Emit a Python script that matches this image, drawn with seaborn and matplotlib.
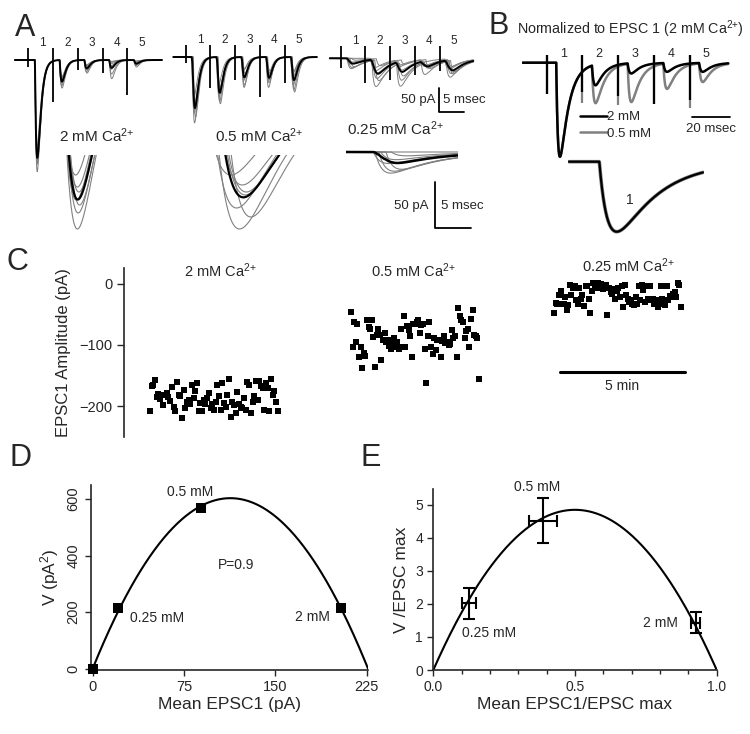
import numpy as np
import matplotlib
matplotlib.use("Agg")
import matplotlib.pyplot as plt
from matplotlib.lines import Line2D
from matplotlib.ticker import MultipleLocator
import seaborn as sns

sns.set_style("ticks")
plt.rcParams["font.family"] = ["Liberation Sans", "DejaVu Sans"]
plt.rcParams["mathtext.fontset"] = "custom"
plt.rcParams["mathtext.rm"] = "Liberation Sans"
plt.rcParams["mathtext.it"] = "Liberation Sans:italic"
plt.rcParams["mathtext.bf"] = "Liberation Sans:bold"

W, H = 750, 734
NARROW = ["Liberation Sans Narrow", "Liberation Sans"]
GRAY = "#808080"
CA = r"$\mathregular{Ca^{2{+}}}$"

# ---------------- A: EPSC trains, peak amplitude (pA) of EPSC 1-5 per sweep
stim_a = [0, 5, 10, 15, 20]
sweeps_2mm = [[197, 35, 10, 5, 5], [202, 45, 20, 30, 10], [210, 50, 15, 8, 3],
              [215, 40, 28, 40, 15], [223, 60, 12, 3, 8], [239, 38, 18, 12, 2],
              [185, 55, 25, 20, 12]]
sweeps_05mm = [[87, 60, 30, 40, 35], [97, 95, 60, 55, 70], [107, 70, 45, 35, 45],
               [120, 85, 50, 65, 60], [129, 100, 35, 30, 75], [141, 75, 65, 50, 40],
               [104, 65, 25, 45, 30]]
sweeps_025mm = [[0, 20, 15, 5, 20], [22, 57, 50, 25, 35], [8, 30, 20, 10, 15],
                [18, 45, 30, 15, 30], [4, 15, 10, 20, 25], [20, 40, 40, 10, 30],
                [12, 25, 10, 15, 20]]
latency_2mm = [0.0, 0.04, -0.03, 0.06, 0.02, 0.0, -0.05]
latency_05mm = [-0.15, 0.05, 0.1, -0.05, 0.2, 0.0, 0.12]
latency_025mm = [0.0, 0.3, 0.6, 0.9, 1.2, 0.5, 0.2]
artifact_2mm = [15, 90, 21, 28, 75]
artifact_05mm = [13, 66, 49, 86, 56]
artifact_025mm = [21, 53, 47, 36, 28]
# onset (ms), rise tau, decay tau
kin_2mm = (1.35, 0.35, 0.6)
kin_05mm = (1.35, 0.35, 0.6)
kin_025mm = (1.0, 0.4, 2.5)

# ---------------- B: trains normalized to EPSC 1 in 2 mM
stim_b = [0, 18.6, 37.2, 55.8, 74.4]
norm_2mm = [1.0, 0.22, 0.11, 0.095, 0.095]
norm_05mm = [1.0, 0.41, 0.41, 0.27, 0.20]
artifact_b_2mm = [0.33, 0.31, 0.35, 0.44, 0.40]
artifact_b_05mm = [0.33, 0.43, 0.45, 0.44, 0.48]
kin_b = (4.97, 1.0, 4.5)

# ---------------- C: EPSC1 amplitude per sweep (pA)
epsc1_2mm = [-209, -167, -165, -157, -185, -181, -189, -182, -198, -182, -179, -186,
             -192, -169, -201, -209, -161, -182, -184, -220, -173, -204, -193, -190,
             -196, -166, -187, -175, -163, -208, -195, -209, -190, -196, -187, -178,
             -204, -196, -207, -193, -166, -184, -207, -162, -195, -201, -182, -156,
             -218, -193, -198, -212, -177, -196, -201, -203, -187, -206, -161, -166,
             -212, -193, -184, -159, -190, -159, -168, -171, -207, -162, -170, -208,
             -156, -182, -175, -193, -209]
epsc1_05mm = [-46, -103, -63, -95, -65, -120, -104, -137, -113, -118, -59, -71, -73,
              -59, -87, -136, -84, -74, -84, -124, -91, -81, -95, -92, -102, -107,
              -96, -89, -104, -95, -107, -73, -103, -53, -104, -69, -75, -86, -120,
              -65, -66, -63, -59, -81, -67, -65, -107, -162, -85, -62, -103, -115,
              -89, -109, -91, -92, -119, -93, -85, -96, -95, -100, -98, -75, -89,
              -85, -119, -40, -52, -59, -63, -89, -77, -73, -104, -58, -42, -84, -86,
              -89, -155]
epsc1_025mm = [-48, -31, -32, -18, -11, -33, -32, -21, -43, -34, -2, -18, -7, -3, -26,
               -32, -6, -24, -18, -36, -4, -3, -25, -48, -11, 1, -2, -7, 2, -3, 0, -9,
               -4, -2, -51, -6, -13, -16, -9, -24, -11, -7, -21, -3, -37, -2, -18,
               -24, -29, -26, -32, -34, -22, -32, -3, -26, -2, -10, -29, -4, -24, -4,
               -26, -25, -32, -27, -37, -31, -3, -24, -32, -34, -4, -26, -20, -21,
               -16, -13, -22, 2, -2, -37]
sweep_start_min = [1.04, 9.08, 17.21]
sweep_end_min = [6.15, 14.2, 22.28]
ca_labels = ["2 mM " + CA, "0.5 mM " + CA, "0.25 mM " + CA]

# ---------------- D: variance-mean
mean_epsc = [0, 21, 89, 204]
var_epsc = [0, 216, 568, 216]
fit_i, fit_n = 10.67, 21.2

# ---------------- E: normalized variance-mean (mean +- SEM)
norm_mean = [0.127, 0.386, 0.926]
norm_mean_err = [0.025, 0.05, 0.015]
norm_var = [2.02, 4.52, 1.43]
norm_var_err = [0.47, 0.68, 0.32]
fit_q = 19.4

fig = plt.figure(figsize=(W / 100, H / 100), dpi=100)


def box(x0, y0, x1, y1):
    return [x0 / W, 1 - y1 / H, (x1 - x0) / W, (y1 - y0) / H]


def ftext(x, y, s, **kw):
    fig.text(x / W, 1 - y / H, s, ha=kw.pop("ha", "center"), va=kw.pop("va", "center"), **kw)


def trace_axes(x0, y0, px_x, px_y, xlim, ylim):
    # x0, y0: pixel position of t=0 / baseline
    left, right = x0 + xlim[0] * px_x, x0 + xlim[1] * px_x
    top, bottom = y0 - ylim[1] * px_y, y0 - ylim[0] * px_y
    ax = fig.add_axes(box(left, top, right, bottom))
    ax.set_xlim(xlim)
    ax.set_ylim(ylim)
    ax.set_axis_off()
    return ax


def epsc(t, stims, amps, onset, rise, decay, shift=0.0):
    tp = rise * decay / (decay - rise) * np.log(decay / rise)
    peak = np.exp(-tp / decay) - np.exp(-tp / rise)
    y = np.zeros_like(t)
    for s, a in zip(stims, amps):
        d = np.clip(t - s - onset - shift, 0, None)
        y = y - a * (np.exp(-d / decay) - np.exp(-d / rise)) / peak
    return y


def draw_sweeps(ax, t, stims, sweeps, lat, kin, lw_gray=0.7, lw_black=1.4):
    traces = [epsc(t, stims, amps, *kin, shift=l) for amps, l in zip(sweeps, lat)]
    for tr in traces:
        sns.lineplot(x=t, y=tr, ax=ax, color=GRAY, lw=lw_gray, estimator=None, sort=False)
    sns.lineplot(x=t, y=np.mean(traces, axis=0), ax=ax, color="black", lw=lw_black,
                 estimator=None, sort=False)


# ---------------- panel A
px_ms_a, px_pa_a = 4.95, 0.467
groups = [
    (sweeps_2mm, latency_2mm, artifact_2mm, kin_2mm, (28.3, 60.0), (-2.7, 27)),
    (sweeps_05mm, latency_05mm, artifact_05mm, kin_05mm, (185.7, 57.0), (-2.5, 26.5)),
    (sweeps_025mm, latency_025mm, artifact_025mm, kin_025mm, (340.7, 58.3), (-2.2, 26.8)),
]
train_axes = []
for sweeps, lat, art, kin, origin, span in groups:
    ax = trace_axes(origin[0], origin[1], px_ms_a, px_pa_a, (span[0] - 0.3, span[1] + 0.3), (-250, 45))
    t = np.arange(span[0], span[1], 0.01)
    draw_sweeps(ax, t, stim_a, sweeps, lat, kin)
    ax.vlines(stim_a, [-d for d in art], 26, color="black", lw=1.3)
    for k, s in enumerate(stim_a):
        ax.text(s + 2.9, 37, str(k + 1), ha="center", va="center", fontsize=8.5, clip_on=False)
    train_axes.append(ax)

# 50 pA / 5 msec scale bar for the trains
ax3 = train_axes[2]
ax3.plot([19.9, 19.9, 24.9], [-64, -114, -114], color="black", lw=1.3, clip_on=False)
ax3.text(19.2, -89, "50 pA", ha="right", va="center", fontsize=9.5)
ax3.text(20.6, -89, "5 msec", ha="left", va="center", fontsize=9.5)

# expanded EPSC 1
ax = trace_axes(12.5, -10.0, 36, 1.0, (1.18, 2.71), (-250, -165))
t = np.arange(1.0, 2.8, 0.002)
draw_sweeps(ax, t, [0], [s[:1] for s in sweeps_2mm], latency_2mm, kin_2mm, 0.8, 1.6)
ax = trace_axes(136.7, 88.0, 57, 1.0, (1.2, 2.87), (-152, -67))
draw_sweeps(ax, t, [0], [s[:1] for s in sweeps_05mm], latency_05mm, kin_05mm, 0.8, 1.6)
ax = trace_axes(351.8, 152.0, 18, 0.96, (-0.35, 5.9), (-29, 7))
t = np.arange(-0.35, 5.9, 0.005)
draw_sweeps(ax, t, [0], [s[:1] for s in sweeps_025mm], latency_025mm, kin_025mm, 0.8, 1.8)

ax = trace_axes(435, 228, 7.2, 0.92, (-7.6, 7.6), (-8, 58))
ax.plot([0, 0, 5], [50, 0, 0], color="black", lw=1.3)
ax.text(-0.9, 24, "50 pA", ha="right", va="center", fontsize=9.5)
ax.text(0.8, 24, "5 msec", ha="left", va="center", fontsize=9.5)

ftext(97, 136, "2 mM " + CA, fontsize=11)
ftext(259, 136, "0.5 mM " + CA, fontsize=11)
ftext(395, 129, "0.25 mM " + CA, fontsize=11)

# ---------------- panel B
ax_b = trace_axes(546.7, 62.7, 1.92, 94, (-13, 96), (-1.09, 0.19))
t = np.arange(-12.5, 94.6, 0.05)
sns.lineplot(x=t, y=epsc(t, stim_b, norm_05mm, *kin_b), ax=ax_b, color=GRAY, lw=1.8,
             estimator=None, sort=False)
ax_b.vlines(stim_b, [-d for d in artifact_b_05mm], 0.08, color=GRAY, lw=1.6)
sns.lineplot(x=t, y=epsc(t, stim_b, norm_2mm, *kin_b), ax=ax_b, color="black", lw=1.8,
             estimator=None, sort=False)
ax_b.vlines(stim_b, [-d for d in artifact_b_2mm], 0.08, color="black", lw=1.6)
for k, s in enumerate(stim_b):
    ax_b.text(s + 8.8, 0.09, str(k + 1), ha="center", va="center", fontsize=9)
ax_b.plot([75.5, 95.5], [-0.58, -0.58], color="black", lw=1.3)
ax_b.text(85.5, -0.70, "20 msec", ha="center", va="center", fontsize=9.5)
ax_b.legend(handles=[Line2D([], [], color="black", lw=1.8), Line2D([], [], color=GRAY, lw=1.8)],
            labels=["2 mM", "0.5 mM"], loc="upper left", bbox_to_anchor=(0.279, 0.45),
            frameon=False, fontsize=9.5, handlelength=2.0, handletextpad=0.05,
            labelspacing=0.35, borderpad=0, borderaxespad=0)

ax_bi = trace_axes(554.6, 161.7, 9, 70, (1.49, 16.6), (-1.06, 0.1))
t = np.arange(1.6, 16.5, 0.02)
sns.lineplot(x=t, y=epsc(t, [0], norm_05mm[:1], *kin_b), ax=ax_bi, color=GRAY, lw=2.6,
             estimator=None, sort=False)
sns.lineplot(x=t, y=epsc(t, [0], norm_2mm[:1], *kin_b), ax=ax_bi, color="black", lw=1.6,
             estimator=None, sort=False)
ax_bi.text(8.4, -0.55, "1", ha="center", va="center", fontsize=10)
ftext(517, 29, "Normalized to EPSC 1 (2 mM " + CA + ")", fontsize=10.3, ha="left")

# ---------------- panel C
ax_c = fig.add_axes(box(124, 268, 700, 437))
for amps, t0, t1 in zip([epsc1_2mm, epsc1_05mm, epsc1_025mm], sweep_start_min, sweep_end_min):
    sns.scatterplot(x=np.linspace(t0, t1, len(amps)), y=amps, ax=ax_c, marker="s", s=14,
                    color="black", linewidth=0)
ax_c.set_xlim(0, 23.04)
ax_c.set_ylim(-250.8, 26.2)
sns.despine(ax=ax_c, bottom=True)
ax_c.set_xticks([])
ax_c.set_yticks([0, -100, -200])
ax_c.tick_params(axis="y", direction="out", length=5, width=1, labelsize=10.5)
for lab in ax_c.get_yticklabels():
    lab.set_family(NARROW)
ax_c.spines["left"].set_linewidth(1.2)
ax_c.set_ylabel("EPSC1 Amplitude (pA)", fontsize=12, labelpad=6)
for x, y, lab in zip([3.84, 11.56, 20.16], [22, 22, 30], ca_labels):
    ax_c.text(x, y, lab, ha="center", va="center", fontsize=10.5, family=NARROW)
ax_c.plot([17.44, 22.44], [-144, -144], color="black", lw=2.2)
ax_c.text(19.94, -167, "5 min", ha="center", va="center", fontsize=10, family=NARROW)

# ---------------- panel D
ax_d = fig.add_axes(box(90.7, 485, 368.3, 670))
cur_i = np.linspace(0, fit_i * fit_n, 300)
sns.lineplot(x=cur_i, y=fit_i * cur_i - cur_i ** 2 / fit_n, ax=ax_d, color="black", lw=1.5,
             estimator=None, sort=False)
sns.scatterplot(x=mean_epsc, y=var_epsc, ax=ax_d, marker="s", s=62, color="black",
                linewidth=0, clip_on=False, zorder=5)
ax_d.set_xlim(-1.6, 226.4)
ax_d.set_ylim(-4.6, 650)
ax_d.set_xticks([0, 75, 150, 225])
ax_d.set_yticks([0, 200, 400, 600])
for lab in ax_d.get_yticklabels():
    lab.set_rotation(90)
    lab.set_va("center")
ax_d.tick_params(direction="out", length=4, width=1, labelsize=10.5)
sns.despine(ax=ax_d)
ax_d.set_xlabel("Mean EPSC1 (pA)", fontsize=12.5, labelpad=2)
ax_d.set_ylabel("V (pA$^2$)", fontsize=12.5, labelpad=4)
ax_d.text(80, 626, "0.5 mM", ha="center", va="center", fontsize=10)
ax_d.text(53, 180, "0.25 mM", ha="center", va="center", fontsize=10)
ax_d.text(180.6, 183, "2 mM", ha="center", va="center", fontsize=10)
ax_d.text(117.7, 367, "P=0.9", ha="center", va="center", fontsize=10)

# ---------------- panel E
ax_e = fig.add_axes(box(433.3, 489, 716.7, 670))
xs = np.linspace(0, 1, 300)
sns.lineplot(x=xs, y=fit_q * xs * (1 - xs), ax=ax_e, color="black", lw=1.5,
             estimator=None, sort=False)
ax_e.errorbar(norm_mean, norm_var, xerr=norm_mean_err, yerr=norm_var_err, fmt="none",
              ecolor="black", elinewidth=1.5, capsize=4.5, capthick=1.5)
ax_e.set_xlim(0, 1.0)
ax_e.set_ylim(0, 5.48)
ax_e.set_xticks([0, 0.5, 1.0])
ax_e.set_xticklabels(["0.0", "0.5", "1.0"])
ax_e.xaxis.set_minor_locator(MultipleLocator(0.1))
ax_e.set_yticks([0, 1, 2, 3, 4, 5])
ax_e.tick_params(which="major", direction="out", length=4, width=1, labelsize=10)
ax_e.tick_params(which="minor", direction="out", length=3, width=1)
sns.despine(ax=ax_e)
ax_e.set_xlabel("Mean EPSC1/EPSC max", fontsize=12.5, labelpad=2)
ax_e.set_ylabel("V /EPSC max", fontsize=12.5, labelpad=4)
ax_e.text(0.365, 5.55, "0.5 mM", ha="center", va="center", fontsize=10, clip_on=False)
ax_e.text(0.198, 1.12, "0.25 mM", ha="center", va="center", fontsize=10)
ax_e.text(0.803, 1.42, "2 mM", ha="center", va="center", fontsize=10)

for ax in (ax_d, ax_e):
    for sp in ax.spines.values():
        sp.set_linewidth(1.2)

# panel letters
for x, y, s in [(25, 28, "A"), (499, 26, "B"), (17, 262, "C"), (21, 458, "D"), (371, 458, "E")]:
    ftext(x, y, s, fontsize=22)

fig.savefig("out.png", dpi=100)
